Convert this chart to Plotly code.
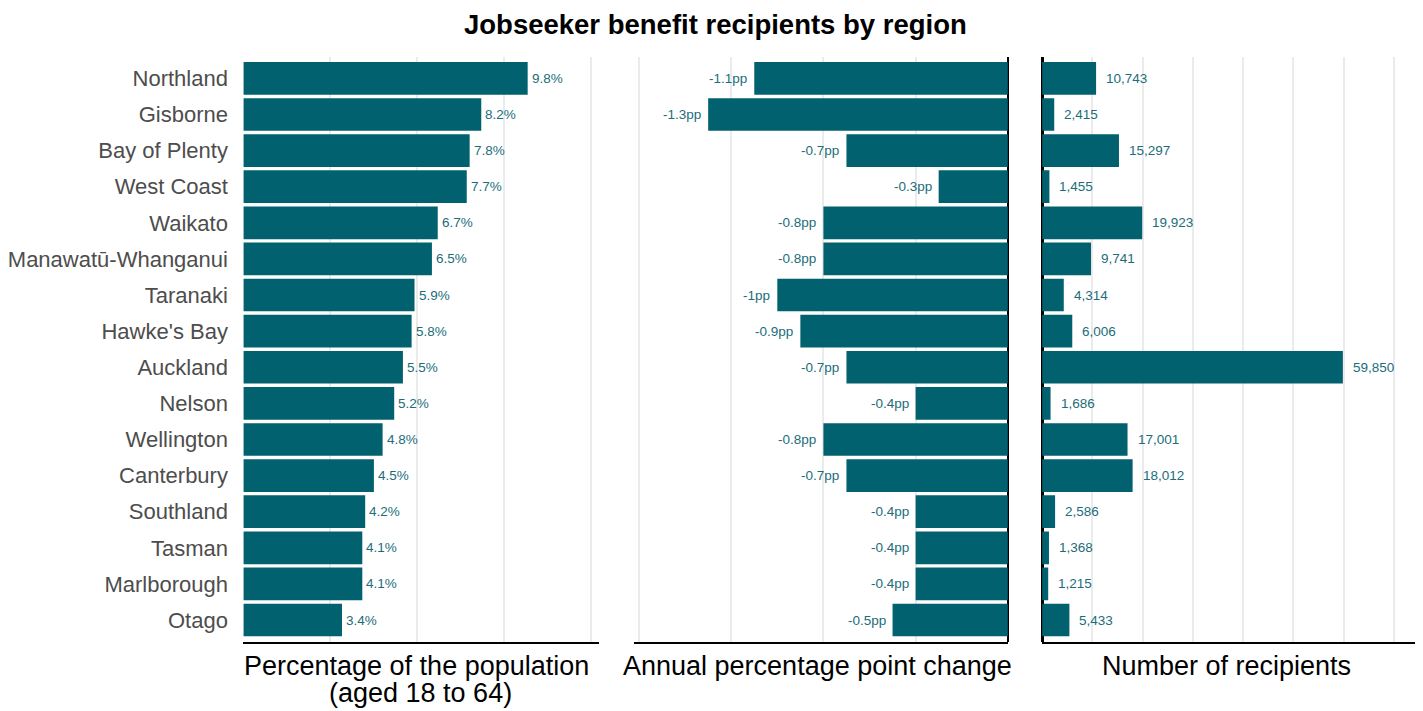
import plotly.graph_objects as go

regions = ["Northland", "Gisborne", "Bay of Plenty", "West Coast", "Waikato",
           "Manawatū-Whanganui", "Taranaki", "Hawke's Bay", "Auckland", "Nelson",
           "Wellington", "Canterbury", "Southland", "Tasman", "Marlborough", "Otago"]
pct_population = [9.8, 8.2, 7.8, 7.7, 6.7, 6.5, 5.9, 5.8, 5.5, 5.2, 4.8, 4.5, 4.2, 4.1, 4.1, 3.4]
pp_change = [-1.1, -1.3, -0.7, -0.3, -0.8, -0.8, -1.0, -0.9, -0.7, -0.4, -0.8, -0.7, -0.4, -0.4, -0.4, -0.5]
recipients = [10743, 2415, 15297, 1455, 19923, 9741, 4314, 6006, 59850, 1686,
              17001, 18012, 2586, 1368, 1215, 5433]

pct_labels = [f"{v:.1f}%" for v in pct_population]
pp_labels = [(f"{v:g}pp") for v in pp_change]
rec_labels = [f"{v:,}" for v in recipients]

W, H = 1423, 711
OFF = 8  # page body margin
BAR = "#02616f"
TXT = "#1b6d7a"
FONT = "Liberation Sans, Arial, sans-serif"

def fx(px):
    return (px - OFF) / W

def fy(px):
    return 1 - (px - OFF) / H

fig = go.Figure()
fig.add_trace(go.Bar(x=pct_population, y=regions, orientation="h", marker_color=BAR,
                     marker_line_width=0, xaxis="x", yaxis="y", hoverinfo="x+y"))
fig.add_trace(go.Bar(x=pp_change, y=regions, orientation="h", marker_color=BAR,
                     marker_line_width=0, xaxis="x2", yaxis="y2", hoverinfo="x+y"))
fig.add_trace(go.Bar(x=recipients, y=regions, orientation="h", marker_color=BAR,
                     marker_line_width=0, xaxis="x3", yaxis="y3", hoverinfo="x+y"))

annotations = []
for r, v, t in zip(regions, pct_population, pct_labels):
    annotations.append(dict(x=v, y=r, xref="x", yref="y", text=t, showarrow=False,
                            xanchor="left", xshift=2, font=dict(size=13.5, color=TXT)))
for r, v, t in zip(regions, pp_change, pp_labels):
    annotations.append(dict(x=v, y=r, xref="x2", yref="y2", text=t, showarrow=False,
                            xanchor="right", xshift=-5, font=dict(size=13.5, color=TXT)))
for r, v, t in zip(regions, recipients, rec_labels):
    annotations.append(dict(x=v, y=r, xref="x3", yref="y3", text=t, showarrow=False,
                            xanchor="left", xshift=8, font=dict(size=13.5, color=TXT)))

# Titles
annotations.append(dict(x=fx(713), y=fy(25), xref="paper", yref="paper",
                        text="<b>Jobseeker benefit recipients by region</b>", showarrow=False,
                        xanchor="center", yanchor="middle", font=dict(size=27.5, color="black")))
annotations.append(dict(x=fx(414), y=fy(666), xref="paper", yref="paper",
                        text="Percentage of the population", showarrow=False,
                        xanchor="center", yanchor="middle", font=dict(size=27, color="black")))
annotations.append(dict(x=fx(418), y=fy(693), xref="paper", yref="paper",
                        text="(aged 18 to 64)", showarrow=False,
                        xanchor="center", yanchor="middle", font=dict(size=27, color="black")))
annotations.append(dict(x=fx(816), y=fy(666), xref="paper", yref="paper",
                        text="Annual percentage point change", showarrow=False,
                        xanchor="center", yanchor="middle", font=dict(size=27, color="black")))
annotations.append(dict(x=fx(1226), y=fy(666), xref="paper", yref="paper",
                        text="Number of recipients", showarrow=False,
                        xanchor="center", yanchor="middle", font=dict(size=27, color="black")))

ydom = [fy(641.7), fy(56.7)]
common_x = dict(showticklabels=False, ticks="", showline=True, linecolor="black",
                linewidth=2, gridcolor="#ebebeb", gridwidth=2, fixedrange=True)
common_y = dict(categoryorder="array", categoryarray=regions, range=[15.6, -0.6],
                showgrid=False, zeroline=False, showline=False, domain=ydom)

fig.update_layout(
    width=W, height=H,
    margin=dict(l=0, r=0, t=0, b=0),
    paper_bgcolor="white", plot_bgcolor="white",
    font=dict(family=FONT),
    showlegend=False,
    bargap=0.095,
    xaxis=dict(domain=[fx(240), fx(596.7)], range=[0, 12.26], dtick=3, tick0=0,
               zeroline=False, anchor="y", **common_x),
    xaxis2=dict(domain=[fx(631.7), fx(1007.3)], range=[-1.622, 0.003], dtick=0.4, tick0=0,
                zeroline=True, zerolinecolor="black", zerolinewidth=1.5, anchor="y2", **common_x),
    xaxis3=dict(domain=[fx(1041), fx(1417.3)], range=[0, 74670], dtick=10000, tick0=0,
                zeroline=True, zerolinecolor="black", zerolinewidth=3, anchor="y3", **common_x),
    yaxis=dict(anchor="x", ticks="outside", ticklen=10, tickcolor="rgba(0,0,0,0)",
               tickfont=dict(size=22, color="#4d4d4d"), **common_y),
    yaxis2=dict(anchor="x2", showticklabels=False, **common_y),
    yaxis3=dict(anchor="x3", showticklabels=False, **common_y),
    annotations=annotations,
)

fig.write_html("out.html")
